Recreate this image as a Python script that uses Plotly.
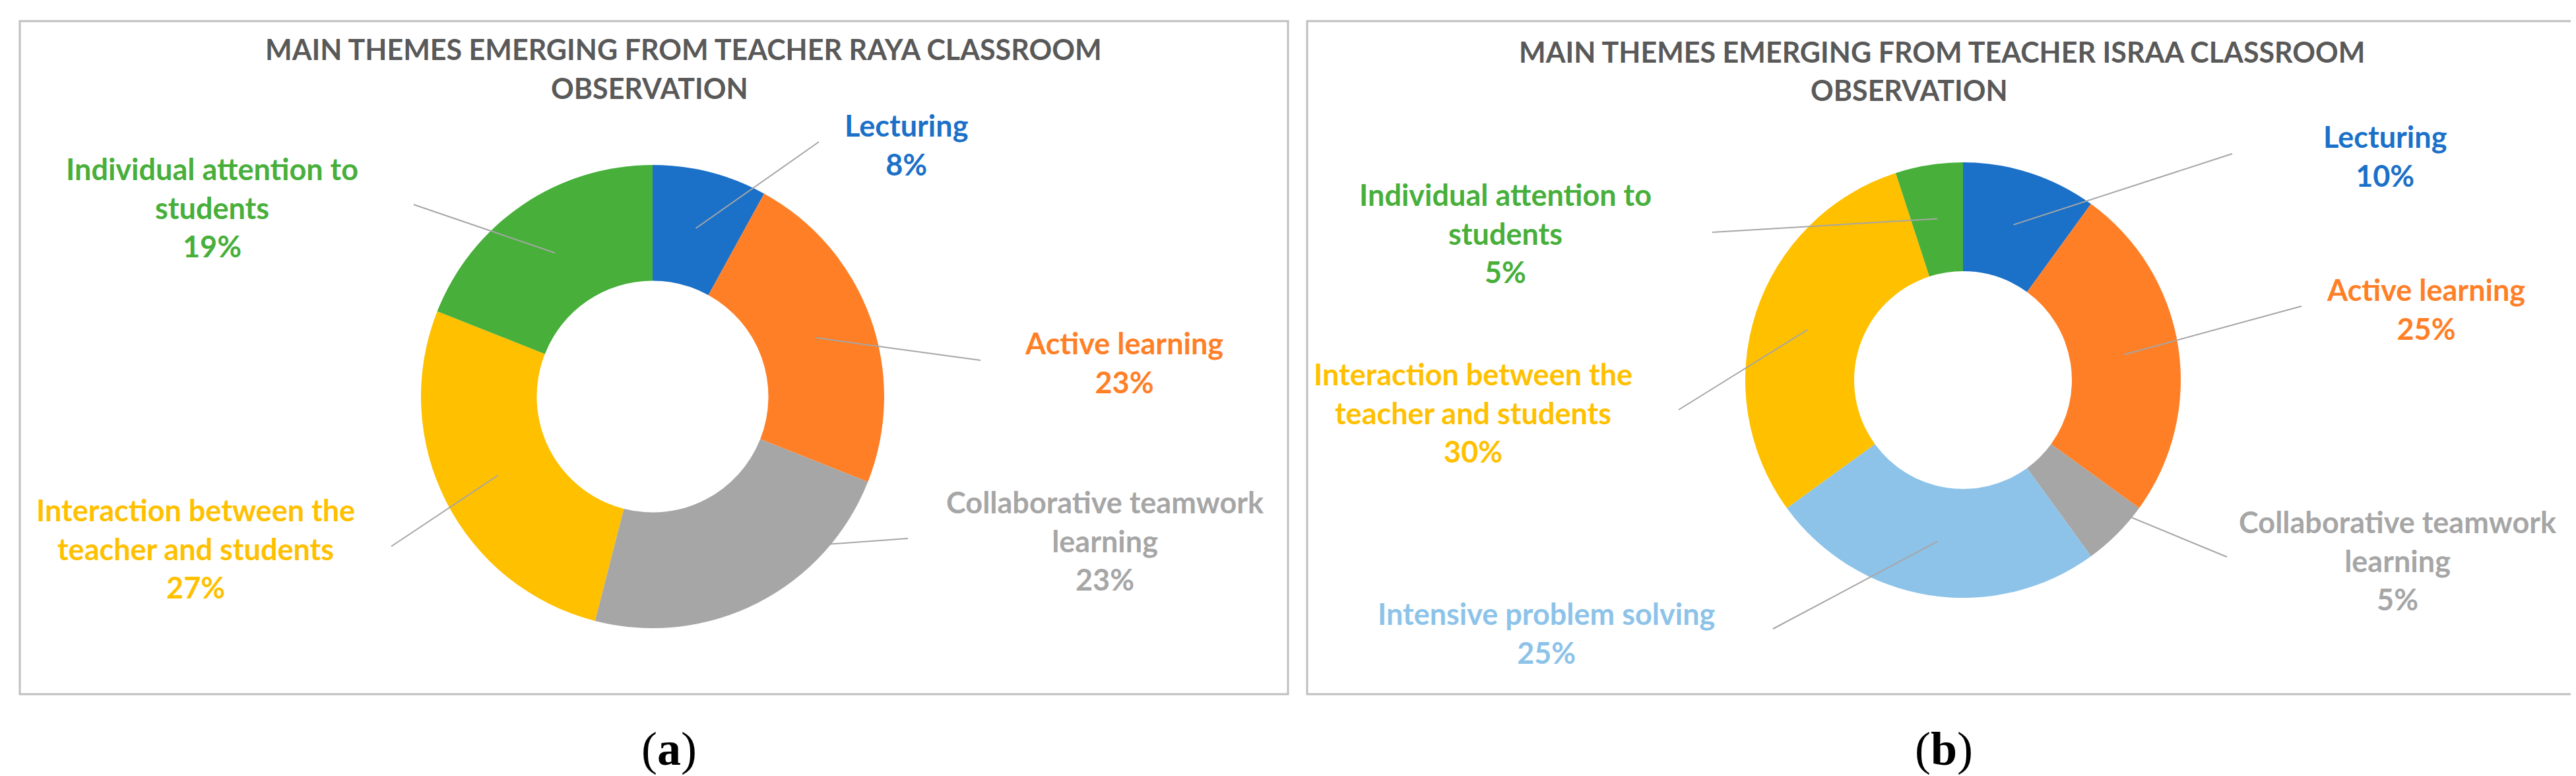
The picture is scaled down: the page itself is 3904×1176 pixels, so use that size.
import math
import plotly.graph_objects as go

W, H = 3904, 1176

# === Data ===
raya_labels = ["Lecturing", "Active learning", "Collaborative teamwork<br>learning",
               "Interaction between the<br>teacher and students", "Individual attention to<br>students"]
raya_values = [8, 23, 23, 27, 19]
raya_colors = ["#1B70C8", "#FF7F27", "#A6A6A6", "#FFC000", "#47AF3A"]

israa_labels = ["Lecturing", "Active learning", "Collaborative teamwork<br>learning",
                "Intensive problem solving", "Interaction between the<br>teacher and students",
                "Individual attention to<br>students"]
israa_values = [10, 25, 5, 25, 30, 5]
israa_colors = ["#1B70C8", "#FF7F27", "#A6A6A6", "#8DC3E9", "#FFC000", "#47AF3A"]

titles = ["MAIN THEMES EMERGING FROM TEACHER RAYA CLASSROOM",
          "MAIN THEMES EMERGING FROM TEACHER ISRAA CLASSROOM"]
captions = ["a", "b"]

# === Layout (pixels) ===
panels = [
    dict(labels=raya_labels, values=raya_values, colors=raya_colors,
         center=(981, 593), r=351, box=(22, 24, 1944, 1044),
         title1=(1028, 66), title2=(976, 126), caption=(1006, 1127),
         label_pos=[(1365, 212), (1695, 541), (1667, 811), (288, 823), (313, 306)],
         leader_end=[(1233, 207), (1478, 538), (1368, 808), (585, 820), (619, 302)]),
    dict(labels=israa_labels, values=israa_values, colors=israa_colors,
         center=(2967, 568), r=330, box=(1973, 24, 3895, 1044),
         title1=(2935, 70), title2=(2885, 128), caption=(2938, 1127),
         label_pos=[(3606, 228), (3668, 460), (3626, 841), (2335, 951), (2224, 617), (2273, 346)],
         leader_end=[(3375, 225), (3480, 456), (3367, 836), (2679, 945), (2536, 613), (2587, 344)]),
]


def px(x, y):
    return x / W, 1 - y / H


fig = go.Figure()
shapes = []
annotations = []

for i, p in enumerate(panels):
    cx, cy = p["center"]
    r = p["r"]
    x0, y0 = px(cx - r, cy + r)
    x1, y1 = px(cx + r, cy - r)
    fig.add_trace(go.Pie(
        labels=[l.replace("<br>", " ") for l in p["labels"]],
        values=p["values"],
        marker=dict(colors=p["colors"], line=dict(width=0)),
        hole=0.5, sort=False, direction="clockwise", rotation=0,
        textinfo="none", showlegend=False,
        domain=dict(x=[x0, x1], y=[y0, y1]),
    ))

    # panel border
    bx0, by0, bx1, by1 = p["box"]
    shapes.append(dict(type="rect", xref="paper", yref="paper",
                       x0=bx0 / W, x1=bx1 / W, y0=1 - by1 / H, y1=1 - by0 / H,
                       line=dict(color="#BFBFBF", width=3), fillcolor="rgba(0,0,0,0)"))

    # titles
    for (tx, ty), txt in [(p["title1"], titles[i]), (p["title2"], "OBSERVATION")]:
        ax, ay = px(tx, ty)
        annotations.append(dict(x=ax, y=ay, xref="paper", yref="paper", text=txt,
                                showarrow=False, xanchor="center", yanchor="middle",
                                font=dict(family="Lato", size=43, color="#595959", weight="bold")))

    # data labels with leader lines
    total = sum(p["values"])
    cum = 0
    for lab, val, col, (lx, ly), (ex, ey) in zip(p["labels"], p["values"], p["colors"],
                                                  p["label_pos"], p["leader_end"]):
        mid = (cum + val / 2) / total * 2 * math.pi
        cum += val
        sx = cx + 0.75 * r * math.sin(mid)
        sy = cy - 0.75 * r * math.cos(mid)
        ax0, ay0 = px(sx, sy)
        ax1, ay1 = px(ex, ey)
        shapes.append(dict(type="line", xref="paper", yref="paper",
                           x0=ax0, y0=ay0, x1=ax1, y1=ay1,
                           line=dict(color="#A6A6A6", width=2)))
        ax, ay = px(lx, ly)
        annotations.append(dict(x=ax, y=ay, xref="paper", yref="paper",
                                text=f"{lab}<br>{val}%", showarrow=False,
                                xanchor="center", yanchor="middle", align="center",
                                font=dict(family="Lato", size=45, color=col, weight="bold")))

    # caption
    capx, capy = px(*p["caption"])
    annotations.append(dict(x=capx, y=capy, xref="paper", yref="paper",
                            text=f"(<b>{captions[i]}</b>)", showarrow=False,
                            xanchor="center", yanchor="middle",
                            font=dict(family="Liberation Serif", size=72, color="black")))

fig.update_layout(width=W, height=H, margin=dict(l=0, r=0, t=0, b=0),
                  paper_bgcolor="white", plot_bgcolor="white",
                  shapes=shapes, annotations=annotations)

fig.write_html("out.html")
